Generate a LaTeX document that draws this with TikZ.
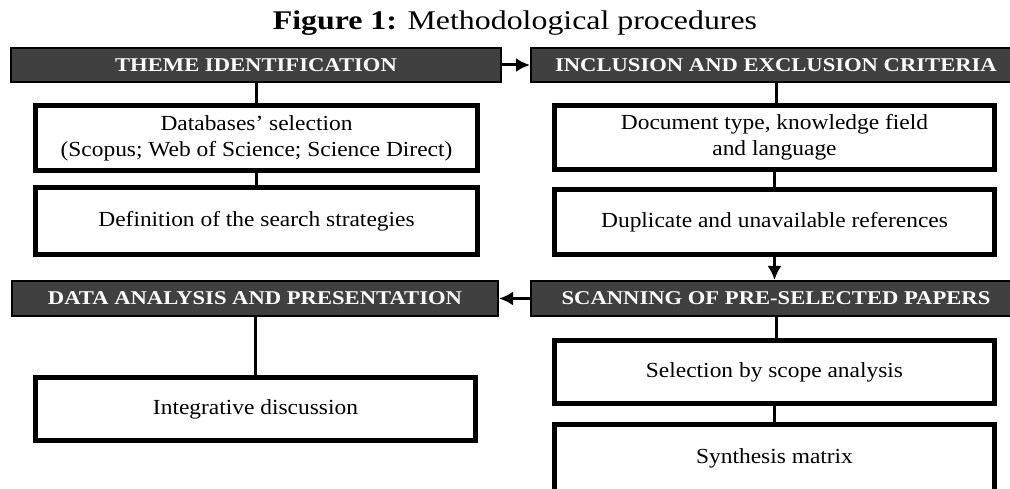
\documentclass[tikz,border=0pt]{standalone}
\usepackage{fontspec}
\usepackage{graphicx}
\setmainfont{Liberation Serif}
\usetikzlibrary{arrows.meta}
\definecolor{headfill}{HTML}{404040}
\newcommand{\hsb}[1]{\scalebox{1.09}[1]{\begin{tabular}{@{}c@{}}#1\end{tabular}}}
\newcommand{\hsh}[1]{\scalebox{1.16}[1]{#1}}
\begin{document}
\begin{tikzpicture}[x=1pt,y=-1pt,
  headbox/.style={draw=black, line width=2pt, fill=headfill, text=white,
    font=\fontsize{19.5}{22}\selectfont\bfseries, minimum height=34pt, inner sep=0pt},
  stepbox/.style={draw=black, line width=5pt, fill=white, align=center,
    font=\fontsize{21.5}{26}\selectfont, inner sep=0pt},
  conn/.style={line width=3pt},
  arr/.style={line width=3pt, -{Latex[length=14pt,width=14pt]}}]
\useasboundingbox (0,0) rectangle (1010,489);
\begin{scope}
\clip (0,0) rectangle (1010,489);
\node[font=\fontsize{27}{30}\selectfont] (title) at (515,23) {\scalebox{1.18}[1]{\textbf{Figure 1:} Methodological procedures}};

\node[headbox, minimum width=490pt] (h1) at (256,65) {\hsh{THEME IDENTIFICATION}};
\node[headbox, minimum width=490pt] (h2) at (776,65) {\hsh{INCLUSION AND EXCLUSION CRITERIA}};
\node[headbox, minimum width=486pt, minimum height=35pt] (h3) at (255,298.5) {\hsh{DATA ANALYSIS AND PRESENTATION}};
\node[headbox, minimum width=490pt, minimum height=35pt] (h4) at (776,298.5) {\hsh{SCANNING OF PRE-SELECTED PAPERS}};

\node[stepbox, minimum width=442pt, minimum height=65pt] (b1) at (256.5,138) {\hsb{Databases’ selection\\(Scopus; Web of Science; Science Direct)}};
\node[stepbox, minimum width=442pt, minimum height=67pt] (b2) at (256.5,221) {\hsb{Definition of the search strategies}};
\node[stepbox, minimum width=440pt, minimum height=63pt] (b3) at (255.5,409) {\hsb{Integrative discussion}};

\node[stepbox, minimum width=440pt, minimum height=64pt] (b4) at (774.5,137.5) {\hsb{Document type, knowledge field\\and language}};
\node[stepbox, minimum width=440pt, minimum height=65pt] (b5) at (774.5,222) {\hsb{Duplicate and unavailable references}};
\node[stepbox, minimum width=440pt, minimum height=63pt] (b6) at (774.5,372) {\hsb{Selection by scope analysis}};
\node[stepbox, minimum width=440pt, minimum height=67pt] (b7) at (774.5,458) {\hsb{Synthesis matrix}};

\draw[conn] (h1.south) -- (h1.south |- b1.north);
\draw[conn] (b1.south) -- (b1.south |- b2.north);
\draw[conn] (h3.south) -- (h3.south |- b3.north);
\draw[conn] (h2.south) -- (h2.south |- b4.north);
\draw[conn] (b4.south) -- (b4.south |- b5.north);
\draw[conn] (h4.south) -- (h4.south |- b6.north);
\draw[conn] (b6.south) -- (b6.south |- b7.north);

\draw[arr] (h1.east) -- (h2.west);
\draw[arr] (h4.west) -- (h3.east);
\draw[arr] (b5.south) -- (b5.south |- h4.north);
\end{scope}
\end{tikzpicture}
\end{document}
